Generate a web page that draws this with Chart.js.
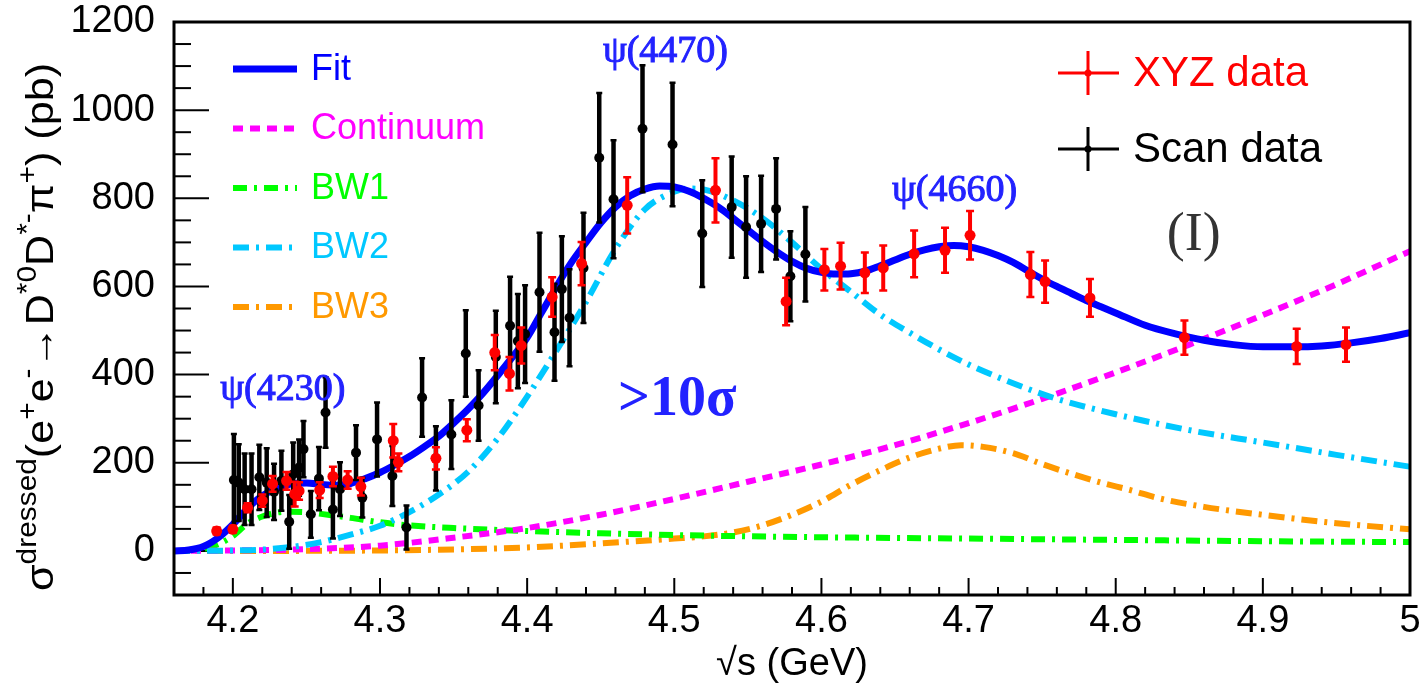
<!DOCTYPE html>
<html><head><meta charset="utf-8">
<script src="https://cdn.jsdelivr.net/npm/chart.js@4.4.0/dist/chart.umd.min.js"></script>
<style>html,body{margin:0;padding:0;background:#fff;}canvas{display:block;}</style>
</head><body>
<canvas id="c" width="1424" height="687"></canvas>
<script>
// ---------- data ----------
const xyzX = [4.189,4.200,4.210,4.220,4.227,4.2365,4.242,4.245,4.259,4.268,4.278,4.287,4.309,4.3125,4.338,4.359,4.378,4.388,4.396,4.417,4.437,4.468,4.528,4.576,4.602,4.613,4.6295,4.642,4.663,4.684,4.701,4.742,4.752,4.7825,4.8467,4.923,4.9565];
const xyzY = [45,49,98,114,152,159,129,136,138,169,161,146,250,201,210,274,450,402,466,576,652,784,818,566,638,646,631,642,674,682,716,627,611,574,484,464,468];
const xyzErr = [8,8,10,14,18,20,28,20,18,22,20,20,38,20,25,25,40,38,41,45,49,64,73,54,47,53,46,51,53,51,55,51,48,43,39,40,39];

const scanX = [4.2007,4.204,4.208,4.2127,4.218,4.223,4.228,4.233,4.2383,4.241,4.245,4.248,4.253,4.2585,4.263,4.268,4.2728,4.2837,4.288,4.298,4.3084,4.318,4.3286,4.338,4.3485,4.3583,4.367,4.3787,4.3884,4.3937,4.3986,4.4084,4.4186,4.4236,4.4288,4.4383,4.449,4.4587,4.4784,4.4988,4.519,4.539,4.5488,4.559,4.5692,4.5789,4.5891];
const scanY = [161,155,140,140,167,155,134,159,66,174,189,231,83,164,314,94,140,223,121,253,170,53,348,210,264,448,330,440,511,476,492,587,496,594,529,642,892,798,958,922,720,780,735,742,776,623,673];
const scanErr = [104,87,81,81,74,78,64,68,61,72,64,64,53,72,80,66,61,62,45,84,68,50,89,73,78,98,80,105,111,107,111,135,110,120,110,125,147,134,144,140,121,115,115,109,115,102,107];

const fitX = [4.16,4.17,4.18,4.19,4.20,4.21,4.22,4.23,4.24,4.25,4.26,4.27,4.28,4.29,4.30,4.31,4.32,4.33,4.34,4.35,4.36,4.37,4.38,4.39,4.40,4.41,4.42,4.43,4.44,4.45,4.46,4.47,4.48,4.49,4.50,4.51,4.52,4.53,4.54,4.55,4.56,4.57,4.58,4.59,4.60,4.61,4.62,4.63,4.64,4.65,4.66,4.67,4.68,4.69,4.70,4.71,4.72,4.73,4.74,4.75,4.76,4.77,4.78,4.79,4.80,4.82,4.84,4.86,4.88,4.90,4.92,4.94,4.96,4.98,5.00];
const fitY = [0,2,10,30,60,97,125,142,152,154,151,149,153,164,178,195,214,236,260,290,322,358,398,440,484,542,600,654,700,744,780,806,821,828,826,816,800,780,755,728,702,678,657,641,632,628,629,635,647,660,673,683,690,693,690,682,670,655,636,617,600,584,568,554,540,512,493,478,468,463,463,465,472,482,495];

const contX = [4.16,4.20,4.25,4.30,4.35,4.40,4.45,4.50,4.55,4.60,4.65,4.70,4.75,4.80,4.85,4.90,4.95,5.00];
const contY = [0,1,4,12,30,52,82,118,157,196,240,290,345,405,468,535,605,680];

const bw1X = [4.16,4.17,4.18,4.19,4.20,4.21,4.22,4.23,4.24,4.25,4.26,4.28,4.30,4.32,4.35,4.40,4.45,4.50,4.60,4.70,4.80,4.90,5.00];
const bw1Y = [0,0,4,15,34,62,78,87,89,88,84,75,65,58,52,45,40,36,31,28,25,22,20];

const bw2X = [4.16,4.20,4.22,4.24,4.26,4.28,4.30,4.32,4.34,4.36,4.38,4.40,4.42,4.44,4.46,4.48,4.50,4.51,4.52,4.54,4.56,4.58,4.60,4.62,4.64,4.66,4.68,4.70,4.72,4.74,4.76,4.80,4.85,4.90,4.95,5.00];
const bw2Y = [0,1,3,9,20,37,57,88,128,180,255,350,455,565,685,775,815,822,820,795,755,700,640,588,536,495,457,423,394,368,345,310,274,246,218,191];

const bw3X = [4.16,4.20,4.30,4.40,4.45,4.50,4.52,4.54,4.56,4.58,4.60,4.62,4.64,4.66,4.68,4.695,4.71,4.73,4.75,4.77,4.79,4.81,4.83,4.86,4.90,4.95,5.00];
const bw3Y = [0,0,1,8,17,28,33,42,58,82,112,150,183,212,232,240,236,222,197,175,155,138,119,100,82,63,49];

const xTickValues = [4.2,4.3,4.4,4.5,4.6,4.7,4.8,4.9,5.0];
const xTickLabels = ['4.2','4.3','4.4','4.5','4.6','4.7','4.8','4.9','5'];
const yTickValues = [0,200,400,600,800,1000,1200];
const yTickLabels = ['0','200','400','600','800','1000','1200'];

const annotations = [
  {text:'ψ(4230)', x:4.234, y:364, font:'38px "Liberation Serif"', color:'#2222ff', stroke:1},
  {text:'ψ(4470)', x:4.494, y:1132, font:'38px "Liberation Serif"', color:'#2222ff', stroke:1},
  {text:'ψ(4660)', x:4.6905, y:816, font:'38px "Liberation Serif"', color:'#2222ff', stroke:1},
  {text:'>10σ', x:4.502, y:342, font:'bold 56px "Liberation Serif"', color:'#2222ff', stroke:0},
  {text:'(I)', x:4.853, y:714, font:'54px "Liberation Serif"', color:'#333333', stroke:0}
];

// ---------- helpers ----------
const pts = (xs, ys) => xs.map((x, i) => ({x: x, y: ys[i]}));
const near = (a, b) => Math.abs(a - b) < 1e-6;
const FONT = '"Liberation Sans", Arial, sans-serif';
Chart.defaults.font.family = FONT;

const curveDs = (label, xs, ys, color, width, dash, order) => ({
  type: 'line', label, data: pts(xs, ys), borderColor: color, backgroundColor: color,
  borderWidth: width, borderDash: dash, pointRadius: 0, showLine: true, fill: false,
  cubicInterpolationMode: 'monotone', order
});

const datasets = [
  Object.assign({type:'scatter', label:'XYZ data', data: pts(xyzX, xyzY), errY: xyzErr, backgroundColor:'#ff0000', borderColor:'#ff0000', pointRadius:5.5, pointBorderWidth:0, order:0}, {capW:4, barW:4}),
  Object.assign({type:'scatter', label:'Scan data', data: pts(scanX, scanY), errY: scanErr, backgroundColor:'#000000', borderColor:'#000000', pointRadius:5, pointBorderWidth:0, order:1}, {capW:3, barW:4.5}),
  curveDs('Fit', fitX, fitY, '#0000ff', 7, [], 2),
  curveDs('BW2', bw2X, bw2Y, '#00c8ff', 6, [16,7,3,7], 3),
  curveDs('Continuum', contX, contY, '#ff00ff', 6, [10,7], 4),
  curveDs('BW1', bw1X, bw1Y, '#00ff00', 6, [14,7,3,7], 5),
  curveDs('BW3', bw3X, bw3Y, '#ff9900', 6, [16,7,3,7], 6)
];

const rootPlugin = {
  id: 'rootStyle',
  beforeDatasetsDraw(chart) {
    const {ctx, chartArea: a} = chart;
    const xs = chart.scales.x, ys = chart.scales.y;
    ctx.save();
    ctx.strokeStyle = '#000'; ctx.lineWidth = 2;
    xs.ticks.forEach(t => {
      const px = xs.getPixelForValue(t.value);
      const major = xTickValues.some(v => near(v, t.value));
      const len = major ? 17 : 8;
      ctx.beginPath(); ctx.moveTo(px, a.bottom); ctx.lineTo(px, a.bottom - len); ctx.stroke();
    });
    ys.ticks.forEach(t => {
      const py = ys.getPixelForValue(t.value);
      const major = Math.abs(t.value / 200 - Math.round(t.value / 200)) < 1e-6;
      const len = major ? 35 : 17;
      ctx.beginPath(); ctx.moveTo(a.left, py); ctx.lineTo(a.left + len, py); ctx.stroke();
    });
    ctx.restore();
  },
  beforeDatasetDraw(chart, args) {
    const ds = chart.data.datasets[args.index];
    if (!ds.errY) return;
    const {ctx, chartArea: a} = chart;
    const xs = chart.scales.x, ys = chart.scales.y;
    ctx.save();
    ctx.beginPath(); ctx.rect(a.left, a.top, a.right - a.left, a.bottom - a.top); ctx.clip();
    ctx.strokeStyle = ds.borderColor;
    ds.data.forEach((p, i) => {
      const px = xs.getPixelForValue(p.x);
      const y1 = ys.getPixelForValue(p.y - ds.errY[i]);
      const y2 = ys.getPixelForValue(p.y + ds.errY[i]);
      ctx.lineWidth = ds.barW;
      ctx.beginPath(); ctx.moveTo(px, y1); ctx.lineTo(px, y2); ctx.stroke();
      ctx.lineWidth = 2.5;
      ctx.beginPath(); ctx.moveTo(px - ds.capW, y1); ctx.lineTo(px + ds.capW, y1);
      ctx.moveTo(px - ds.capW, y2); ctx.lineTo(px + ds.capW, y2); ctx.stroke();
    });
    ctx.restore();
  },
  afterDraw(chart) {
    const {ctx, chartArea: a} = chart;
    const xs = chart.scales.x, ys = chart.scales.y;
    ctx.save();
    // frame
    ctx.strokeStyle = '#000'; ctx.lineWidth = 3;
    ctx.strokeRect(a.left, a.top, a.right - a.left, a.bottom - a.top);

    // left legend (curves)
    const legendCurves = ['Fit','Continuum','BW1','BW2','BW3'];
    legendCurves.forEach((name, i) => {
      const ds = chart.data.datasets.find(d => d.label === name);
      const y = 69 + i * 59.5;
      ctx.strokeStyle = ds.borderColor; ctx.lineWidth = ds.borderWidth;
      ctx.setLineDash(ds.borderDash || []);
      ctx.beginPath(); ctx.moveTo(233, y); ctx.lineTo(297, y); ctx.stroke();
      ctx.setLineDash([]);
      ctx.fillStyle = ds.borderColor;
      ctx.font = '36px ' + FONT; ctx.textBaseline = 'middle'; ctx.textAlign = 'left';
      ctx.fillText(name, 311, y + 1);
    });
    // right legend (data)
    ['XYZ data','Scan data'].forEach((name, i) => {
      const ds = chart.data.datasets.find(d => d.label === name);
      const y = 73 + i * 76; const cx = 1088;
      ctx.strokeStyle = ds.borderColor; ctx.fillStyle = ds.borderColor; ctx.lineWidth = 3;
      ctx.beginPath(); ctx.moveTo(1058, y); ctx.lineTo(1119, y);
      ctx.moveTo(cx, y - 22); ctx.lineTo(cx, y + 22); ctx.stroke();
      ctx.beginPath(); ctx.arc(cx, y, 3.5, 0, Math.PI * 2); ctx.fill();
      ctx.font = '42px ' + FONT; ctx.textBaseline = 'middle'; ctx.textAlign = 'left';
      ctx.fillText(name, 1133, y + 1);
    });
    // annotations
    annotations.forEach(an => {
      ctx.font = an.font; ctx.fillStyle = an.color; ctx.strokeStyle = an.color;
      ctx.textAlign = 'center'; ctx.textBaseline = 'middle';
      const px = xs.getPixelForValue(an.x), py = ys.getPixelForValue(an.y);
      ctx.fillText(an.text, px, py);
      if (an.stroke) { ctx.lineWidth = an.stroke; ctx.strokeText(an.text, px, py); }
    });
    // y title with superscripts
    const parts = [['σ',0],['dressed',1],['(e',0],['+',1],['e',0],['-',1],['→D',0],['*0',1],['D',0],['*-',1],['π',0],['+',1],[') (pb)',0]];
    const fN = '39px ' + FONT, fS = '27px ' + FONT;
    let W = 0;
    parts.forEach(p => { ctx.font = p[1] ? fS : fN; W += ctx.measureText(p[0]).width; });
    const y0 = 591, y1 = 63, k = (y0 - y1) / W;
    ctx.translate(53, y0); ctx.rotate(-Math.PI / 2); ctx.scale(k, 1);
    ctx.fillStyle = '#000'; ctx.textAlign = 'left'; ctx.textBaseline = 'alphabetic';
    let x = 0;
    parts.forEach(p => {
      ctx.font = p[1] ? fS : fN;
      ctx.fillText(p[0], x, p[1] ? -17 : 0);
      x += ctx.measureText(p[0]).width;
    });
    ctx.restore();
  }
};

new Chart(document.getElementById('c'), {
  type: 'scatter',
  data: {datasets},
  options: {
    responsive: false, animation: false, devicePixelRatio: 1,
    layout: {padding: {top: 22, right: 14, left: 0, bottom: 0}},
    plugins: {legend: {display: false}, tooltip: {enabled: false}},
    scales: {
      x: {
        type: 'linear', min: 4.16, max: 5.0,
        grid: {display: false, drawTicks: false}, border: {display: false},
        ticks: {stepSize: 0.02, autoSkip: false, maxRotation: 0, padding: 4, color: '#000', font: {size: 38},
          callback: v => { const i = xTickValues.findIndex(t => near(t, v)); return i >= 0 ? xTickLabels[i] : ''; }},
        title: {display: true, text: '√s (GeV)', color: '#000', font: {size: 38}, padding: 0},
        afterFit: s => { s.height = 92; s.paddingLeft = 0; s.paddingRight = 0; }
      },
      y: {
        type: 'linear', min: -100, max: 1200,
        grid: {display: false, drawTicks: false}, border: {display: false},
        ticks: {stepSize: 50, autoSkip: false, padding: 19, color: '#000', font: {size: 38},
          callback: v => { const i = yTickValues.findIndex(t => near(t, v)); return i >= 0 ? yTickLabels[i] : ''; }},
        afterFit: s => { s.width = 174; s.paddingTop = 0; s.paddingBottom = 0; }
      }
    }
  },
  plugins: [rootPlugin]
});
</script>
</body></html>
